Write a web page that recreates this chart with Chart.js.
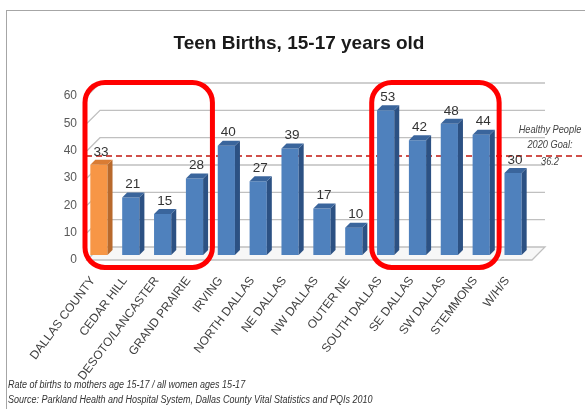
<!DOCTYPE html>
<html>
<head>
<meta charset="utf-8">
<script src="https://cdn.jsdelivr.net/npm/chart.js@4.4.1/dist/chart.umd.min.js"></script>
<style>
  html, body { margin: 0; padding: 0; background: #fff; }
  #wrap { position: relative; width: 585px; height: 409px; overflow: hidden; }
  #frame { position: absolute; left: 6px; top: 10px; right: -4px; bottom: -4px;
           border-left: 1.5px solid #a6a6a6; border-top: 1.5px solid #a6a6a6; }
  #title { position: absolute; top: 32px; left: 0; width: 598px; text-align: center;
           font: bold 19px "Liberation Sans", Arial, sans-serif; color: #1a1a1a; }
  .note { position: absolute; left: 8px; font: italic 10px "Liberation Sans", Arial, sans-serif;
          color: #333; white-space: nowrap; transform: scaleX(0.9); transform-origin: 0 0; }
  canvas { position: absolute; left: 0; top: 0; }
</style>
</head>
<body>
<div id="wrap">
  <div id="frame"></div>
  <canvas id="teenBirths" width="585" height="409"></canvas>
  <div id="title">Teen Births, 15-17 years old</div>
  <div class="note" style="top:379px">Rate of births to mothers age 15-17 / all women ages 15-17</div>
  <div class="note" style="top:394px">Source: Parkland Health and Hospital System, Dallas County Vital Statistics and PQIs 2010</div>
</div>
<script>
const regions = ['DALLAS COUNTY', 'CEDAR HILL', 'DESOTO/LANCASTER', 'GRAND PRAIRIE', 'IRVING',
  'NORTH DALLAS', 'NE DALLAS', 'NW DALLAS', 'OUTER NE', 'SOUTH DALLAS', 'SE DALLAS',
  'SW DALLAS', 'STEMMONS', 'W/H/S'];
const birthRates = [33, 21, 15, 28, 40, 27, 39, 17, 10, 53, 42, 48, 44, 30];
const goalRate = 36.2;
const goalLabel = ['Healthy People', '2020 Goal:', '36.2'];
const yMax = 60;
const yStep = 10;
// index ranges circled in red
const highlightGroups = [[0, 3], [9, 12]];

const DEPTH = 5;           // bar side/top depth
const FRONT = 5;           // floor front edge offset from bar plane
const BACK = 8;            // back wall offset from bar plane
const BASE_FONT = '"Liberation Sans", Arial, sans-serif';

const isCounty = i => i === 0;
const frontColors = regions.map((r, i) => isCounty(i) ? '#f79646' : '#4f81bd');
const sideColors = regions.map((r, i) => isCounty(i) ? '#b8692c' : '#2c5183');
const topColors = regions.map((r, i) => isCounty(i) ? '#d97c34' : '#3a659c');

const chart3d = {
  id: 'chart3d',
  beforeDatasetsDraw(chart) {
    const { ctx, chartArea: a, scales: { y } } = chart;
    const y0 = y.getPixelForValue(0);
    ctx.save();
    // floor
    ctx.beginPath();
    ctx.moveTo(a.left + 4, y0 + FRONT);
    ctx.lineTo(a.right + 3, y0 + FRONT);
    ctx.lineTo(a.right + 3 + FRONT + BACK, y0 - BACK);
    ctx.lineTo(a.left + 4 + FRONT + BACK, y0 - BACK);
    ctx.closePath();
    ctx.fillStyle = '#f7f7f7';
    ctx.fill();
    ctx.strokeStyle = '#c0c0c0';
    ctx.lineWidth = 1.3;
    ctx.stroke();
    // side wall diagonals + back wall gridlines
    for (let v = yStep; v <= yMax; v += yStep) {
      const p = y.getPixelForValue(v);
      ctx.beginPath();
      ctx.moveTo(a.left + 4, p + FRONT);
      ctx.lineTo(a.left + 4 + FRONT + BACK, p - BACK);
      ctx.lineTo(a.right + 3 + FRONT + BACK, p - BACK);
      ctx.stroke();
    }
    // goal line, behind the bars
    const g = y.getPixelForValue(goalRate);
    ctx.beginPath();
    ctx.setLineDash([6, 4]);
    ctx.strokeStyle = '#d0504a';
    ctx.lineWidth = 2;
    ctx.moveTo(a.left + 3, g);
    ctx.lineTo(chart.width, g);
    ctx.stroke();
    ctx.restore();
  },
  afterDatasetsDraw(chart) {
    const { ctx } = chart;
    ctx.save();
    chart.getDatasetMeta(0).data.forEach((bar, i) => {
      const { x, y, base, width } = bar.getProps(['x', 'y', 'base', 'width'], true);
      const l = x - width / 2, r = x + width / 2;
      ctx.fillStyle = sideColors[i];
      ctx.beginPath();
      ctx.moveTo(r, y);
      ctx.lineTo(r + DEPTH, y - DEPTH);
      ctx.lineTo(r + DEPTH, base - DEPTH);
      ctx.lineTo(r, base);
      ctx.closePath();
      ctx.fill();
      ctx.fillStyle = topColors[i];
      ctx.beginPath();
      ctx.moveTo(l, y);
      ctx.lineTo(l + DEPTH, y - DEPTH);
      ctx.lineTo(r + DEPTH, y - DEPTH);
      ctx.lineTo(r, y);
      ctx.closePath();
      ctx.fill();
      // value label
      ctx.fillStyle = '#333';
      ctx.font = '13.5px ' + BASE_FONT;
      ctx.textAlign = 'center';
      ctx.textBaseline = 'middle';
      ctx.fillText(birthRates[i], x + 2, y - 13);
    });
    ctx.restore();
  },
  afterDraw(chart) {
    const { ctx, chartArea: a, scales: { x, y } } = chart;
    ctx.save();
    // goal annotation, slightly condensed italic
    const g = y.getPixelForValue(goalRate);
    ctx.save();
    ctx.translate(a.right + 21, g);
    ctx.scale(0.88, 1);
    ctx.fillStyle = '#444';
    ctx.font = 'italic 10.5px ' + BASE_FONT;
    ctx.textAlign = 'center';
    ctx.textBaseline = 'middle';
    ctx.fillText(goalLabel[0], 0, -26);
    ctx.fillText(goalLabel[1], 0, -11);
    ctx.fillText(goalLabel[2], 0, 6);
    ctx.restore();
    // red highlight boxes
    const half = x.width / regions.length / 2;
    const top = y.getPixelForValue(yMax) - 8.5;
    const bottom = y.getPixelForValue(0) + 12.5;
    ctx.strokeStyle = '#ff0000';
    ctx.lineWidth = 5;
    highlightGroups.forEach(([from, to]) => {
      const left = x.getPixelForValue(from) - half + 2;
      const right = x.getPixelForValue(to) + half + 2;
      ctx.beginPath();
      ctx.roundRect(left, top, right - left, bottom - top, 20);
      ctx.stroke();
    });
    ctx.restore();
  }
};

new Chart(document.getElementById('teenBirths'), {
  type: 'bar',
  data: {
    labels: regions,
    datasets: [{
      data: birthRates,
      backgroundColor: frontColors,
      borderWidth: 0,
      barPercentage: 0.54,
      categoryPercentage: 1
    }]
  },
  options: {
    responsive: false,
    animation: false,
    layout: { padding: { top: 91, right: 56, bottom: 0, left: 0 } },
    plugins: {
      legend: { display: false },
      tooltip: { enabled: false }
    },
    scales: {
      x: {
        grid: { display: false, drawTicks: false },
        border: { display: false },
        ticks: {
          autoSkip: false,
          minRotation: 53,
          maxRotation: 53,
          padding: 19,
          labelOffset: -6,
          color: '#404040',
          font: { size: 12, family: BASE_FONT }
        },
        afterFit(scale) { scale.height = 154; }
      },
      y: {
        min: 0,
        max: yMax,
        grid: { display: false, drawTicks: false },
        border: { display: false },
        ticks: {
          stepSize: yStep,
          padding: 6,
          labelOffset: 5,
          color: '#595959',
          font: { size: 12, family: BASE_FONT }
        },
        afterFit(scale) { scale.width = 83; }
      }
    }
  },
  plugins: [chart3d]
});
</script>
</body>
</html>
